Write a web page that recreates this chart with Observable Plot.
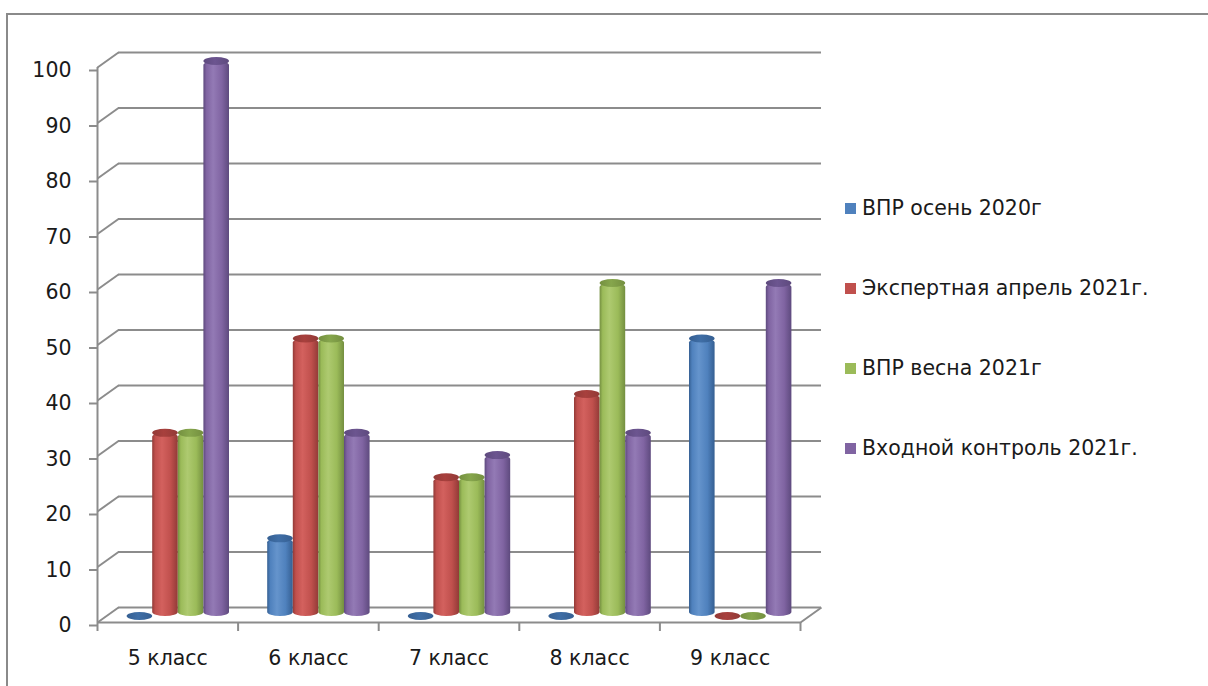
<!DOCTYPE html>
<html>
<head>
<meta charset="utf-8">
<script src="https://cdn.jsdelivr.net/npm/d3@7"></script>
<script src="https://cdn.jsdelivr.net/npm/@observablehq/plot@0.6"></script>
<style>
  html, body { margin: 0; padding: 0; background: #fff; }
  body { width: 1208px; height: 686px; position: relative; overflow: hidden; font-family: "DejaVu Sans", sans-serif; }
  #frame { position: absolute; left: 6px; top: 13px; width: 1300px; height: 800px; border-left: 2px solid #8a8a8a; border-top: 2px solid #8a8a8a; }
  #chart { position: absolute; left: 0; top: 0; }
  #legend { position: absolute; left: 845px; top: 0; }
  .item { position: absolute; left: 0; white-space: nowrap; font-size: 20.5px; color: #1a1a1a; display: flex; align-items: center; height: 26px; }
  .sw { width: 11px; height: 11px; margin-right: 6px; }
</style>
</head>
<body>
<div id="frame"></div>
<div id="chart"></div>
<div id="legend"></div>
<script>
// ---- data ----
const classes = ["5 класс", "6 класс", "7 класс", "8 класс", "9 класс"];
const series = ["ВПР осень 2020г", "Экспертная апрель 2021г.", "ВПР весна 2021г", "Входной контроль 2021г."];
const autumn2020 = [0, 14, 0, 0, 50];
const expertApril2021 = [33, 50, 25, 40, 0];
const spring2021 = [33, 50, 25, 60, 0];
const entryControl2021 = [100, 33, 29, 33, 60];
const yTicks = [0, 10, 20, 30, 40, 50, 60, 70, 80, 90, 100];

// ---- styles ----
const colors = ["#4F81BD", "#C0504D", "#9BBB59", "#8064A2"];
const dark = ["#355f92", "#923a37", "#748f40", "#5e4a7e"];
const light = ["#6594cc", "#d3615e", "#aeca70", "#937ab5"];
const capCol = ["#3f6ea6", "#a8403d", "#86a64c", "#6c5590"];

const seriesValues = [autumn2020, expertApril2021, spring2021, entryControl2021];
const data = [];
series.forEach((s, si) => classes.forEach((c, ci) => data.push({cls: c, ci, series: s, si, value: seriesValues[si][ci]})));

// layout (pixels)
const W = 830, H = 686;
const mL = 97, mR = W - 800, mT = 67, mB = H - 622;
const stepPx = (800 - 97) / classes.length;      // one class in pixels
const pxPerUnit = (622 - 67) / 100;
const depthX = 21, depthY = 15;                  // 3D wall offset
const dxu = depthX / stepPx, dyu = depthY / pxPerUnit;
const groupPad = 19.1 / stepPx, slot = 25.6 / stepPx; // bar slots within a class

const xa = d => d.ci + groupPad + d.si * slot;
const xb = d => d.ci + groupPad + (d.si + 1) * slot;

const grid = "#8c8c8c";

const marks = [
  // back wall gridlines
  Plot.ruleY(yTicks, {x1: 0, x2: classes.length, dx: depthX, dy: -depthY, stroke: grid, strokeWidth: 2}),
  // left side diagonals
  Plot.link(yTicks, {x1: 0, y1: d => d, x2: dxu, y2: d => d + dyu, stroke: grid, strokeWidth: 2}),
  // floor right diagonal
  Plot.link([0], {x1: classes.length, y1: 0, x2: classes.length + dxu, y2: dyu, stroke: grid, strokeWidth: 2}),
  // front axes lines
  Plot.ruleY([0], {x1: 0, x2: classes.length, stroke: grid, strokeWidth: 2}),
  Plot.ruleX([0], {y1: 0, y2: 100, stroke: grid, strokeWidth: 2}),
  Plot.axisY({ticks: yTicks, tickSize: 8, tickPadding: 18, stroke: grid, strokeWidth: 2, fontSize: 20.5, fill: "#1a1a1a", dy: 3, label: null}),
  Plot.axisX({ticks: d3.range(classes.length + 1), tickSize: 9, stroke: grid, strokeWidth: 2, text: null, label: null}),
  Plot.axisX({ticks: classes.map((c, i) => i + 0.5), tickFormat: v => classes[Math.floor(v)], tickSize: 0, tickPadding: 28, fontSize: 20.5, fill: "#1a1a1a", label: null})
];

series.forEach((s, si) => {
  const sub = data.filter(d => d.si === si);
  marks.push(Plot.rect(sub.filter(d => d.value > 0), {x1: xa, x2: xb, y1: 0, y2: "value", dx: 10.5, dy: -6, fill: `url(#grad${si})`, rx: slot * stepPx / 2, ry: 4}));
  marks.push(Plot.rect(sub, {x1: xa, x2: xb, y1: "value", y2: "value", insetTop: -4, insetBottom: -4, dx: 10.5, dy: -6, fill: `url(#cap${si})`, rx: slot * stepPx / 2, ry: 4}));
});

const plot = Plot.plot({
  width: W, height: H,
  marginLeft: mL, marginRight: mR, marginTop: mT, marginBottom: mB,
  style: {fontFamily: "DejaVu Sans, sans-serif", background: "transparent", overflow: "visible"},
  x: {type: "linear", domain: [0, classes.length], axis: null},
  y: {domain: [0, 100], axis: null},
  marks
});

// gradients for the cylinders
const svg = d3.select(plot);
const defs = svg.insert("defs", ":first-child");
colors.forEach((c, i) => {
  const g = defs.append("linearGradient").attr("id", `grad${i}`).attr("x1", 0).attr("x2", 1).attr("y1", 0).attr("y2", 0);
  g.append("stop").attr("offset", "0%").attr("stop-color", dark[i]);
  g.append("stop").attr("offset", "12%").attr("stop-color", c);
  g.append("stop").attr("offset", "38%").attr("stop-color", light[i]);
  g.append("stop").attr("offset", "72%").attr("stop-color", c);
  g.append("stop").attr("offset", "100%").attr("stop-color", dark[i]);
  const h = defs.append("linearGradient").attr("id", `cap${i}`).attr("x1", 0).attr("x2", 1).attr("y1", 0).attr("y2", 0);
  h.append("stop").attr("offset", "0%").attr("stop-color", dark[i]);
  h.append("stop").attr("offset", "45%").attr("stop-color", capCol[i]);
  h.append("stop").attr("offset", "100%").attr("stop-color", dark[i]);
});

document.getElementById("chart").appendChild(plot);

// legend
const legend = document.getElementById("legend");
const legendY = [208, 288, 368, 448];
series.forEach((s, i) => {
  const it = document.createElement("div");
  it.className = "item";
  it.style.top = (legendY[i] - 13) + "px";
  it.innerHTML = `<span class="sw" style="background:${colors[i]}"></span><span>${s}</span>`;
  legend.appendChild(it);
});
</script>
</body>
</html>
